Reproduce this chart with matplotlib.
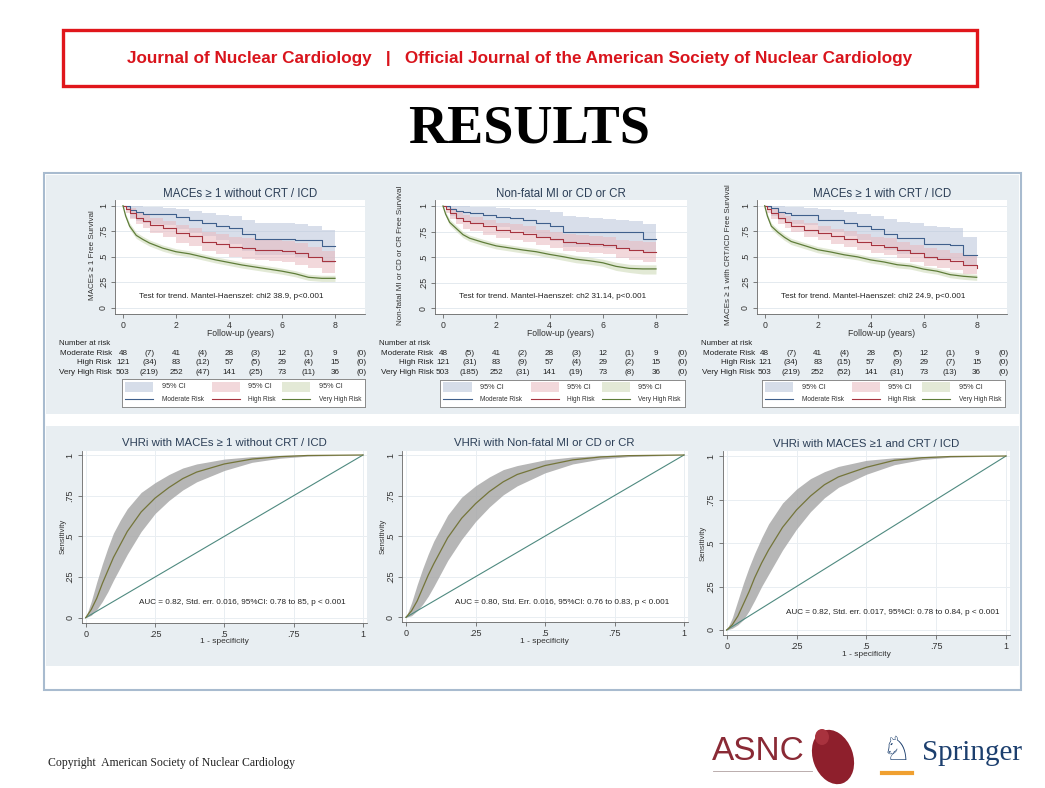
import numpy as np
import matplotlib
matplotlib.use("Agg")
import matplotlib.pyplot as plt
import matplotlib.transforms as mtransforms
from matplotlib.patches import Rectangle, Ellipse
from matplotlib.lines import Line2D

plt.rcParams['font.family'] = ['Liberation Sans', 'DejaVu Sans']

W, H = 1045, 788

# ---------------- Kaplan-Meier data ----------------
km_t = [0, 0.1, 0.25, 0.5, 0.75, 1, 1.5, 2, 2.5, 3, 3.5, 4, 4.5, 5, 5.5, 6, 6.5, 7, 7.5, 8]

# panel 1: MACEs >= 1 without CRT / ICD
km1_mod = [1, 1, .96, .94, .92, .92, .92, .885, .86, .83, .80, .78, .72, .67, .67, .67, .665, .66, .61, .61]
km1_mod_hi = [1, 1, 1, .995, .99, .985, .98, .965, .95, .93, .91, .90, .86, .83, .83, .83, .82, .80, .76, .75]
km1_mod_lo = [1, .97, .88, .85, .83, .82, .81, .77, .73, .70, .66, .63, .56, .52, .52, .52, .50, .49, .44, .44]
km1_high = [1, .97, .93, .88, .85, .81, .78, .73, .70, .65, .63, .60, .585, .57, .565, .56, .535, .50, .455, .455]
km1_high_hi = [1, 1, .98, .94, .91, .88, .85, .81, .78, .74, .72, .69, .68, .665, .66, .655, .635, .60, .56, .56]
km1_high_lo = [1, .93, .87, .82, .78, .73, .69, .64, .61, .56, .53, .50, .48, .47, .46, .45, .42, .39, .34, .34]
km1_vh = [1, .90, .80, .71, .67, .635, .585, .55, .53, .50, .47, .445, .42, .40, .38, .36, .335, .30, .29, .29]
km1_vh_hi = [1, .92, .83, .74, .70, .665, .615, .58, .56, .53, .50, .475, .45, .43, .41, .39, .365, .33, .32, .32]
km1_vh_lo = [1, .88, .77, .68, .64, .605, .555, .52, .50, .47, .44, .415, .39, .37, .35, .33, .305, .27, .26, .26]

# panel 2: Non-fatal MI or CD or CR
km2_mod = [1, 1, .97, .95, .94, .93, .91, .895, .88, .86, .83, .80, .75, .75, .75, .75, .75, .75, .68, .68]
km2_mod_hi = [1, 1, 1, 1, 1, .995, .99, .98, .975, .97, .96, .94, .90, .89, .88, .87, .86, .85, .82, .82]
km2_mod_lo = [1, .98, .90, .87, .85, .83, .81, .79, .77, .74, .70, .66, .60, .60, .60, .59, .58, .57, .54, .54]
km2_high = [1, .97, .93, .88, .85, .83, .80, .765, .75, .73, .70, .675, .65, .635, .63, .62, .585, .57, .555, .555]
km2_high_hi = [1, 1, .98, .94, .91, .89, .86, .83, .82, .80, .77, .75, .73, .72, .71, .70, .67, .66, .65, .65]
km2_high_lo = [1, .93, .87, .82, .78, .76, .72, .69, .67, .65, .62, .59, .56, .55, .54, .53, .49, .47, .45, .45]
km2_vh = [1, .92, .84, .78, .72, .685, .645, .61, .59, .57, .553, .527, .505, .48, .465, .445, .41, .39, .385, .385]
km2_vh_hi = [1, .94, .87, .81, .75, .715, .675, .64, .62, .60, .585, .56, .54, .515, .50, .48, .45, .43, .425, .425]
km2_vh_lo = [1, .90, .81, .75, .69, .655, .615, .58, .56, .54, .52, .495, .47, .445, .43, .41, .37, .35, .335, .335]

# panel 3: MACEs >= 1 with CRT / ICD
km3_mod = [1, 1, .975, .94, .93, .91, .91, .86, .86, .83, .80, .77, .72, .68, .68, .63, .63, .62, .52, .52]
km3_mod_hi = [1, 1, 1, 1, .99, .985, .98, .97, .96, .94, .92, .90, .87, .84, .83, .80, .79, .78, .69, .69]
km3_mod_lo = [1, .98, .90, .86, .84, .82, .81, .75, .74, .70, .66, .63, .57, .53, .53, .48, .48, .47, .42, .42]
km3_high = [1, .97, .93, .88, .84, .80, .76, .73, .70, .675, .645, .615, .60, .57, .535, .50, .48, .455, .42, .39]
km3_high_hi = [1, 1, .98, .94, .90, .86, .83, .80, .775, .75, .72, .69, .68, .65, .62, .585, .565, .54, .51, .48]
km3_high_lo = [1, .93, .87, .82, .78, .74, .69, .66, .63, .60, .57, .54, .52, .49, .45, .415, .395, .37, .33, .30]
km3_vh = [1, .90, .80, .74, .69, .65, .61, .57, .547, .52, .50, .47, .45, .423, .41, .38, .36, .326, .31, .30]
km3_vh_hi = [1, .92, .83, .77, .72, .68, .64, .60, .577, .55, .53, .50, .48, .453, .44, .41, .39, .356, .34, .33]
km3_vh_lo = [1, .88, .77, .71, .66, .62, .58, .54, .517, .49, .47, .44, .42, .393, .38, .35, .33, .296, .28, .27]

# number at risk (years 0,2,4,6,8) and events in brackets between them
risk_groups = ["Moderate Risk", "High Risk", "Very High Risk"]
km1_at_risk = [[48, 41, 28, 12, 9], [121, 83, 57, 29, 15], [503, 252, 141, 73, 36]]
km1_events = [[7, 4, 3, 1, 0], [34, 12, 5, 4, 0], [219, 47, 25, 11, 0]]
km2_at_risk = [[48, 41, 28, 12, 9], [121, 83, 57, 29, 15], [503, 252, 141, 73, 36]]
km2_events = [[5, 2, 3, 1, 0], [31, 9, 4, 2, 0], [185, 31, 19, 8, 0]]
km3_at_risk = [[48, 41, 28, 12, 9], [121, 83, 57, 29, 15], [503, 252, 141, 73, 36]]
km3_events = [[7, 4, 5, 1, 0], [34, 15, 9, 7, 0], [219, 52, 31, 13, 0]]

km_titles = ["MACEs \u2265 1 without CRT / ICD", "Non-fatal MI or CD or CR", "MACEs \u2265 1 with CRT / ICD"]
km_ylabels = ["MACEs \u2265 1 Free Survival", "Non-fatal MI or CD or CR Free Survival",
              "MACEs \u2265 1 with CRT/ICD Free Survival"]
km_tests = ["Test for trend. Mantel-Haenszel: chi2 38.9, p<0.001",
            "Test for trend. Mantel-Haenszel: ch2 31.14, p<0.001",
            "Test for trend. Mantel-Haenszel: chi2 24.9, p<0.001"]

# ---------------- ROC data ----------------
roc_fpr = [0, .02, .04, .06, .08, .1, .125, .15, .2, .25, .3, .35, .4, .5, .6, .7, .8, 1]
roc1_tpr = [0, .05, .12, .21, .29, .37, .45, .53, .65, .735, .80, .855, .895, .945, .975, .99, .997, 1]
roc1_hi = [0, .10, .22, .33, .43, .52, .60, .67, .77, .83, .88, .92, .945, .975, .99, .997, 1, 1]
roc1_lo = [0, .015, .05, .10, .16, .23, .31, .39, .53, .64, .72, .785, .835, .905, .955, .98, .993, 1]
roc2_tpr = [0, .04, .10, .18, .26, .33, .41, .49, .61, .70, .775, .835, .88, .935, .97, .988, .996, 1]
roc2_hi = [0, .09, .20, .30, .39, .47, .55, .63, .74, .81, .865, .91, .935, .97, .988, .996, 1, 1]
roc2_lo = [0, .01, .04, .08, .13, .19, .27, .35, .48, .59, .68, .755, .81, .89, .945, .975, .99, 1]
roc3_tpr = [0, .03, .08, .15, .22, .30, .385, .46, .59, .69, .77, .835, .88, .935, .975, .99, .997, 1]
roc3_hi = [0, .07, .17, .27, .36, .44, .53, .61, .73, .81, .87, .91, .94, .975, .99, .997, 1, 1]
roc3_lo = [0, .01, .03, .06, .11, .17, .25, .32, .46, .58, .68, .76, .82, .895, .95, .98, .993, 1]

roc_titles = ["VHRi with MACEs \u2265 1 without CRT / ICD", "VHRi with Non-fatal MI or CD or CR",
              "VHRi with MACES \u22651 and CRT / ICD"]
roc_auc = ["AUC = 0.82, Std. err. 0.016, 95%CI: 0.78 to 85, p < 0.001",
           "AUC = 0.80, Std. Err. 0.016, 95%CI: 0.76 to 0.83, p < 0.001",
           "AUC = 0.82, Std. err. 0.017, 95%CI: 0.78 to 0.84, p < 0.001"]

# ---------------- styles ----------------
LINE_COLS = ['#3f5f8c', '#a6343f', '#5f7d3a']
FILL_COLS = ['#b9c4da', '#e9b8be', '#cbd8b4']
LEG_FILLS = ['#d6dde9', '#f2d8db', '#e3e9d6']
STEP_MODE = [True, True, False]   # very high risk has dense tiny steps -> drawn as a line
PANEL_BG = '#e8eef2'
AXIS_COL = '#666666'
TITLE_COL = '#2b3e56'


def px_box(x0, y0, x1, y1):
    return [x0 / W, 1 - y1 / H, (x1 - x0) / W, (y1 - y0) / H]


def place(x0px, x1px, y0px, y1px, xlim, ylim, xspan):
    # x0px/x1px: pixel of data 0 and data xspan, y0px/y1px: pixel of 0 and 1
    sx = (x1px - x0px) / xspan
    sy = (y0px - y1px)
    left = x0px + xlim[0] * sx
    right = x0px + xlim[1] * sx
    bottom = y0px - ylim[0] * sy
    top = y0px - ylim[1] * sy
    return px_box(left, top, right, bottom)


def style_axes(ax, fs):
    for s in ['top', 'right']:
        ax.spines[s].set_visible(False)
    for s in ['left', 'bottom']:
        ax.spines[s].set_color(AXIS_COL)
        ax.spines[s].set_linewidth(0.6)
    ax.tick_params(colors=AXIS_COL, labelcolor='#333333', labelsize=fs, length=3, width=0.6, pad=2)
    for lab in ax.get_yticklabels():
        lab.set_rotation(90)
        lab.set_va('center')


fig = plt.figure(figsize=(W / 100, H / 100), dpi=100)
bg = fig.add_axes([0, 0, 1, 1], zorder=-5)
bg.set_xlim(0, W)
bg.set_ylim(H, 0)
bg.axis('off')

# slide header
bg.add_patch(Rectangle((63, 30), 914, 56, fill=False, edgecolor='#e0161b', lw=2.4))
bg.text(520, 58, "Journal of Nuclear Cardiology   |   Official Journal of the American Society of Nuclear Cardiology",
        color='#d9141c', fontsize=12.3, fontweight='bold', ha='center', va='center')
bg.text(529, 129, "RESULTS", family='Liberation Serif', fontweight='bold', fontsize=39,
        ha='center', va='center', color='black')

# panel backgrounds and frame
bg.add_patch(Rectangle((46, 175), 973, 239, color=PANEL_BG, lw=0))
bg.add_patch(Rectangle((46, 426), 973, 240, color=PANEL_BG, lw=0))
bg.add_patch(Rectangle((44, 173), 977, 517, fill=False, edgecolor='#a8bbcf', lw=1.5))

# ---------------- Kaplan-Meier panels ----------------
km_curves = [
    [(km1_mod, km1_mod_lo, km1_mod_hi), (km1_high, km1_high_lo, km1_high_hi), (km1_vh, km1_vh_lo, km1_vh_hi)],
    [(km2_mod, km2_mod_lo, km2_mod_hi), (km2_high, km2_high_lo, km2_high_hi), (km2_vh, km2_vh_lo, km2_vh_hi)],
    [(km3_mod, km3_mod_lo, km3_mod_hi), (km3_high, km3_high_lo, km3_high_hi), (km3_vh, km3_vh_lo, km3_vh_hi)],
]
km_risk = [(km1_at_risk, km1_events), (km2_at_risk, km2_events), (km3_at_risk, km3_events)]
km_x0 = [(123, 335, 308, 205.7), (443, 656, 308.3, 206), (764.7, 976.7, 308, 205.7)]
km_ylab_x = [92, 401, 729]
km_row_right = [-0.42, -0.36, -0.36]
km_leg_box = [(122, 379, 365, 407), (440, 380, 685, 407), (762, 380, 1005, 407)]
KM_XLIM = (-0.3, 9.15)
KM_YLIM = (-0.06, 1.06)

for i in range(3):
    x0px, x8px, y0px, y1px = km_x0[i]
    ax = fig.add_axes(place(x0px, x8px, y0px, y1px, KM_XLIM, KM_YLIM, 8))
    ax.set_facecolor('white')
    ax.set_xlim(*KM_XLIM)
    ax.set_ylim(*KM_YLIM)
    ax.set_yticks([0, .25, .5, .75, 1])
    ax.set_yticklabels(['0', '.25', '.5', '.75', '1'])
    ax.set_xticks([0, 2, 4, 6, 8])
    ax.grid(axis='y', color='#e4eaef', lw=0.7)
    ax.set_axisbelow(True)
    style_axes(ax, 6.3)

    for (s, lo, hi), fc, st in zip(km_curves[i], FILL_COLS, STEP_MODE):
        if st:
            ax.fill_between(km_t, lo, hi, step='post', color=fc, alpha=0.55, lw=0)
        else:
            ax.fill_between(km_t, lo, hi, color=fc, alpha=0.55, lw=0)
    for (s, lo, hi), lc, st in zip(km_curves[i], LINE_COLS, STEP_MODE):
        if st:
            ax.step(km_t, s, where='post', color=lc, lw=0.8)
        else:
            ax.plot(km_t, s, color=lc, lw=0.9)

    ax.text(4.1, 0.115, km_tests[i], fontsize=5.9, ha='center', va='center', color='#222222')
    ax.set_title(km_titles[i], fontsize=8.3, color=TITLE_COL, pad=0.5)

    trans = mtransforms.blended_transform_factory(ax.transAxes, bg.transData)
    ax.text(0.5, 333, "Follow-up (years)", transform=trans, fontsize=6.2, ha='center', va='center', color='#333333')
    bg.text(km_ylab_x[i], 255, km_ylabels[i], rotation=90, fontsize=5.8, ha='center', va='center', color='#333333')

    # number at risk table
    trans = mtransforms.blended_transform_factory(ax.transData, bg.transData)
    ax.text(-2.4, 343, "Number at risk", transform=trans, fontsize=5.7, ha='left', va='center',
            color='#222222', clip_on=False)
    at_risk, events = km_risk[i]
    for r, (name, y) in enumerate(zip(risk_groups, [353, 362.5, 372])):
        ax.text(km_row_right[i], y, name, transform=trans, fontsize=5.9, ha='right', va='center',
                color='#222222', clip_on=False)
        for k in range(5):
            ax.text(2 * k, y, str(at_risk[r][k]), transform=trans, fontsize=5.9, ha='center',
                    va='center', color='#222222', clip_on=False)
            ax.text(2 * k + 1, y, "(%d)" % events[r][k], transform=trans, fontsize=5.9, ha='center',
                    va='center', color='#222222', clip_on=False)

    # legend box
    lax = fig.add_axes(px_box(*km_leg_box[i]))
    lax.set_xlim(0, 1)
    lax.set_ylim(0, 1)
    lax.set_xticks([])
    lax.set_yticks([])
    for s in lax.spines.values():
        s.set_color('#8a8a8a')
        s.set_linewidth(0.7)
    col_start = [0.014, 0.37, 0.66]
    for c in range(3):
        xs = col_start[c]
        lax.add_patch(Rectangle((xs, 0.55), 0.115, 0.36, color=LEG_FILLS[c], lw=0))
        lax.text(xs + 0.15, 0.73, "95% CI", fontsize=5.2, va='center', ha='left', color='#333333')
        lax.add_line(Line2D([xs, xs + 0.115], [0.28, 0.28], color=LINE_COLS[c], lw=0.8))
        lax.text(xs + 0.15, 0.28, risk_groups[c], fontsize=4.7, va='center', ha='left', color='#333333')

# ---------------- ROC panels ----------------
roc_curves = [(roc1_tpr, roc1_lo, roc1_hi), (roc2_tpr, roc2_lo, roc2_hi), (roc3_tpr, roc3_lo, roc3_hi)]
roc_px = [(85.7, 363, 617.7, 455), (406, 684, 617.3, 455), (726.7, 1006, 630, 456)]
roc_ylab_x = [63, 383, 703]
roc_auc_pos = [(0.564, 0.092), (0.56, 0.09), (0.595, 0.10)]
ROC_XLIM = (-0.015, 1.013)
ROC_YLIM = (-0.03, 1.027)

for i in range(3):
    x0px, x1px, y0px, y1px = roc_px[i]
    ax = fig.add_axes(place(x0px, x1px, y0px, y1px, ROC_XLIM, ROC_YLIM, 1))
    ax.set_facecolor('white')
    ax.set_xlim(*ROC_XLIM)
    ax.set_ylim(*ROC_YLIM)
    ticks = [0, .25, .5, .75, 1]
    tlabs = ['0', '.25', '.5', '.75', '1']
    ax.set_xticks(ticks)
    ax.set_xticklabels(tlabs)
    ax.set_yticks(ticks)
    ax.set_yticklabels(tlabs)
    ax.grid(color='#e9eef2', lw=0.7)
    ax.set_axisbelow(True)
    style_axes(ax, 6.5)

    tpr, lo, hi = roc_curves[i]
    ax.fill_between(roc_fpr, lo, hi, color='#a9a9a9', alpha=0.85, lw=0)
    ax.plot([0, 1], [0, 1], color='#4f8a80', lw=0.8)
    ax.plot(roc_fpr, tpr, color='#74753a', lw=0.9)

    ax.set_title(roc_titles[i], fontsize=8.2, color=TITLE_COL, pad=3)
    ax.text(roc_auc_pos[i][0], roc_auc_pos[i][1], roc_auc[i], fontsize=5.9, ha='center', va='center',
            color='#222222')
    trans = mtransforms.blended_transform_factory(ax.transAxes, bg.transData)
    ax.text(0.5, y0px + 24, "1 - specificity", transform=trans, fontsize=6, ha='center', va='center',
            color='#333333')
    bg.text(roc_ylab_x[i], (y0px + y1px) / 2, "Sensitivity", rotation=90, fontsize=5.6, ha='center',
            va='center', color='#333333')

# ---------------- footer ----------------
bg.text(48, 763, "Copyright  American Society of Nuclear Cardiology", family='Liberation Serif',
        fontsize=8.5, ha='left', va='center', color='#222222')
bg.text(712, 752, "ASNC", fontsize=24, ha='left', va='center', color='#8a2a35')
bg.add_line(Line2D([713, 812], [771, 771], color='#b0a0a0', lw=0.6))
bg.add_patch(Ellipse((833, 757), 40, 56, angle=-20, color='#8e1f2c', lw=0))
bg.add_patch(Ellipse((822, 737), 14, 16, angle=0, color='#a8323e', lw=0))
bg.text(896, 750, "\u2658", family='DejaVu Sans', fontsize=24, ha='center', va='center', color='#1c3f6e')
bg.add_line(Line2D([882, 912], [773, 773], color='#f0a030', lw=3))
bg.text(922, 753, "Springer", family='Liberation Serif', fontsize=21, ha='left', va='center',
        color='#1c3f6e')

fig.savefig("out.png", dpi=100)
